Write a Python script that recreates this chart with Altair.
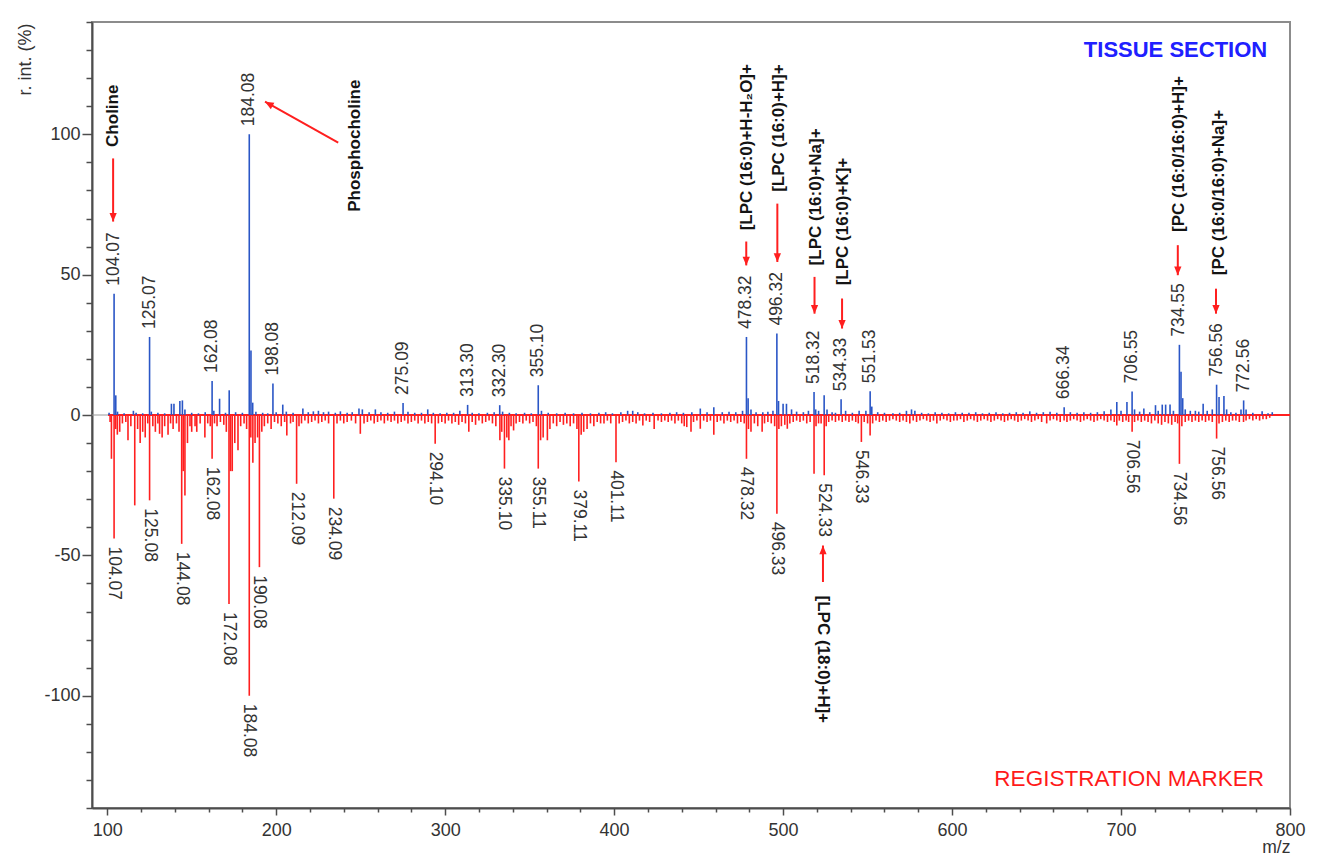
import altair as alt
import pandas as pd

# ---------------- data ----------------
# Tissue section spectrum (upward, blue): m/z and relative intensity (%)
tissue_mz = [101.1, 104.07, 105.07, 106.1, 110.0, 115.5, 117.1, 121.0, 125.07, 126.1, 130.0, 134.0,
             138.0, 139.5, 143.0, 144.5, 146.0, 150.0, 154.0, 158.0, 162.08, 163.1, 166.5, 170.0,
             172.2, 176.0, 180.0, 184.08, 185.08, 186.1, 188.0, 192.0, 195.0, 198.08, 200.0, 203.9,
             206.0, 210.0, 215.8, 219.0, 222.0, 225.0, 228.0, 231.0, 235.0, 238.0, 242.0, 245.0,
             249.0, 251.0, 255.0, 258.7, 262.0, 266.0, 270.0, 275.09, 278.0, 282.0, 286.0, 289.7,
             293.0, 297.0, 301.0, 305.0, 308.7, 313.30, 316.0, 320.0, 325.0, 329.0, 332.30, 334.0,
             338.0, 342.0, 347.0, 351.0, 355.10, 357.0, 361.0, 366.0, 371.0, 376.0, 381.0, 386.0,
             391.0, 395.0, 399.0, 404.0, 408.0, 411.0, 414.0, 418.0, 423.0, 428.0, 433.0, 437.0,
             441.0, 446.0, 451.0, 455.0, 459.0, 464.0, 468.0, 472.0, 476.0, 478.32, 479.3, 481.0,
             484.0, 488.0, 491.0, 494.0, 496.32, 497.3, 500.0, 502.0, 505.0, 508.0, 512.0, 515.0,
             518.32, 519.3, 521.0, 524.3, 526.0, 529.0, 531.0, 534.33, 537.0, 541.0, 545.0, 549.0,
             551.53, 552.5, 556.0, 560.0, 565.0, 569.0, 573.0, 576.0, 578.0, 582.0, 586.0, 590.0,
             594.0, 598.0, 602.0, 606.0, 610.0, 614.0, 618.0, 622.0, 626.0, 630.0, 634.0, 638.0,
             642.0, 646.0, 650.0, 654.0, 658.0, 662.0, 666.34, 670.0, 674.0, 678.0, 682.0, 686.0,
             690.0, 694.0, 697.5, 700.0, 703.5, 706.55, 708.0, 711.0, 713.5, 717.0, 720.4, 722.0,
             724.4, 726.4, 729.0, 731.0, 734.55, 735.5, 736.5, 738.0, 741.0, 744.0, 746.0, 748.6,
             751.0, 754.0, 756.56, 758.0, 760.9, 762.5, 765.0, 768.0, 771.0, 772.56, 774.0, 778.0,
             783.5, 787.0, 789.5]
tissue_int = [0.8, 43.2, 7.0, 1.2, 0.6, 1.5, 0.8, 0.6, 27.8, 1.2, 0.8, 0.6,
              4.0, 4.0, 5.0, 5.2, 2.0, 0.8, 0.6, 1.0, 12.1, 1.5, 5.8, 0.8,
              8.8, 1.0, 0.8, 100.0, 23.0, 4.4, 1.2, 0.8, 0.6, 11.2, 1.0, 3.7,
              1.2, 0.8, 2.3, 1.0, 1.3, 1.5, 1.0, 1.2, 0.8, 1.3, 0.8, 1.0,
              2.3, 2.0, 1.0, 2.0, 1.0, 0.8, 1.2, 4.3, 1.2, 0.8, 0.8, 2.0,
              0.8, 0.6, 0.8, 0.8, 1.5, 3.6, 0.8, 0.6, 0.8, 1.0, 3.5, 1.2,
              0.8, 0.6, 0.8, 0.6, 10.6, 1.5, 0.8, 0.6, 0.8, 0.6, 0.8, 0.6,
              0.8, 1.0, 0.6, 1.0, 1.5, 1.5, 1.0, 0.6, 0.8, 0.6, 0.8, 1.0,
              0.8, 1.0, 2.3, 1.0, 2.8, 1.0, 1.2, 1.0, 1.5, 27.8, 6.0, 2.0,
              1.0, 1.0, 1.2, 1.5, 29.0, 5.0, 4.0, 4.0, 2.0, 1.2, 1.0, 1.5,
              8.2, 2.0, 1.5, 7.0, 2.0, 1.0, 0.8, 5.6, 1.5, 0.8, 1.5, 1.5,
              8.5, 3.0, 1.0, 0.8, 0.6, 0.8, 1.5, 2.0, 1.5, 0.8, 0.6, 1.0,
              0.8, 0.6, 1.0, 0.8, 0.8, 1.0, 0.6, 0.8, 1.0, 0.6, 0.8, 1.0,
              0.8, 1.3, 0.8, 1.0, 1.2, 0.8, 2.8, 1.0, 0.8, 1.0, 0.8, 1.0,
              1.3, 2.0, 4.6, 1.5, 4.6, 8.4, 2.0, 1.2, 2.3, 1.0, 3.5, 1.5,
              3.7, 3.7, 3.7, 1.5, 25.0, 15.4, 6.0, 2.0, 1.5, 1.5, 1.2, 4.0,
              1.5, 2.0, 10.8, 6.4, 6.8, 2.0, 1.0, 0.8, 2.0, 5.2, 2.0, 0.8,
              1.3, 0.6, 1.0]

# Registration marker spectrum (downward, red)
marker_mz = [101.7, 102.5, 104.07, 105.0, 106.0, 107.4, 109.0, 111.0, 112.3, 114.0, 116.3, 118.0,
             119.5, 121.0, 122.5, 124.0, 125.08, 127.0, 128.5, 130.0, 131.0, 132.5, 134.0, 136.0,
             137.5, 139.0, 141.0, 142.5, 144.08, 145.0, 146.0, 147.5, 149.0, 150.0, 152.0, 153.0,
             155.0, 157.8, 159.5, 161.0, 162.08, 163.5, 165.0, 167.0, 169.0, 170.5, 172.08, 173.0,
             174.0, 175.5, 177.4, 179.0, 181.0, 182.5, 184.08, 185.0, 186.2, 187.5, 189.0, 190.08,
             191.5, 193.0, 195.0, 197.0, 199.0, 201.0, 203.0, 205.0, 206.3, 208.5, 210.0, 212.09,
             213.5, 215.0, 217.0, 219.0, 221.0, 223.0, 225.0, 227.0, 229.0, 231.0, 234.09, 236.0,
             238.0, 240.0, 242.0, 244.5, 247.0, 249.8, 252.0, 254.0, 256.0, 258.0, 260.0, 262.0,
             264.0, 266.0, 268.0, 270.0, 272.0, 274.0, 276.0, 278.0, 280.0, 282.0, 284.0, 286.0,
             288.0, 290.0, 292.0, 294.10, 296.0, 298.0, 300.0, 302.0, 304.0, 306.0, 308.0, 310.0,
             312.0, 314.0, 316.0, 318.0, 320.0, 322.0, 324.0, 326.0, 328.0, 330.0, 332.4, 333.5,
             335.10, 336.5, 337.7, 339.0, 340.5, 342.0, 344.0, 346.0, 348.0, 350.0, 352.0, 354.0,
             355.11, 356.5, 358.0, 360.5, 362.0, 364.0, 366.0, 368.0, 370.0, 372.0, 374.0, 376.0,
             378.0, 379.11, 380.5, 382.0, 384.0, 386.0, 388.0, 390.0, 392.0, 394.0, 396.0, 398.0,
             401.11, 403.0, 405.0, 407.0, 409.0, 411.0, 413.0, 415.0, 417.0, 419.0, 421.0, 423.7,
             426.0, 428.0, 430.0, 432.0, 434.0, 436.0, 438.0, 440.0, 441.5, 443.0, 445.5, 447.0,
             449.0, 451.0, 453.0, 455.0, 457.0, 459.0, 461.0, 463.0, 465.0, 467.0, 469.0, 471.0,
             473.0, 475.0, 477.0, 478.32, 479.5, 481.0, 483.0, 485.0, 487.6, 489.0, 491.0, 493.0,
             495.0, 496.33, 497.5, 499.0, 501.0, 502.5, 504.0, 506.0, 508.0, 510.0, 512.0, 514.0,
             516.0, 518.32, 519.5, 521.0, 522.5, 524.33, 525.5, 527.0, 529.0, 531.0, 533.0, 535.0,
             537.0, 539.0, 541.0, 543.0, 544.5, 546.33, 548.0, 550.0, 551.5, 553.0, 555.0, 557.0,
             559.0, 561.0, 563.0, 565.0, 567.0, 569.0, 571.0, 573.0, 575.0, 577.0, 579.0, 581.0,
             583.0, 585.0, 587.0, 589.0, 591.0, 593.0, 595.0, 597.0, 599.0, 601.0, 603.0, 605.0,
             607.0, 609.0, 611.0, 613.0, 615.0, 617.0, 619.0, 621.0, 623.0, 625.0, 627.0, 629.0,
             631.0, 633.0, 635.0, 637.0, 639.0, 641.0, 643.0, 645.0, 647.0, 649.0, 651.0, 653.0,
             656.0, 658.0, 660.0, 662.0, 664.0, 666.3, 668.0, 670.0, 672.0, 674.0, 676.0, 678.0,
             680.0, 682.0, 684.0, 686.0, 688.0, 690.0, 692.0, 694.0, 696.0, 697.5, 699.0, 701.0,
             703.0, 704.5, 706.56, 708.0, 710.0, 712.0, 714.0, 716.0, 718.0, 720.0, 722.0, 724.0,
             726.0, 728.0, 730.0, 732.0, 733.5, 734.56, 736.0, 738.0, 740.0, 742.0, 744.0, 746.0,
             748.0, 750.0, 752.0, 754.0, 756.56, 758.0, 760.0, 762.0, 764.0, 766.0, 768.0, 770.0,
             772.5, 774.0, 776.0, 778.0, 780.0, 782.0, 784.0, 786.0, 788.0]
marker_int = [-2.5, -15.6, -44.0, -5.0, -7.0, -6.0, -3.0, -2.5, -9.0, -4.0, -32.2, -5.0,
              -10.0, -6.0, -8.0, -3.0, -30.4, -4.0, -6.0, -3.0, -6.7, -8.0, -4.0, -7.0,
              -3.0, -5.0, -3.0, -6.0, -45.9, -20.0, -28.7, -10.0, -4.0, -6.0, -4.0, -6.0,
              -3.0, -8.0, -3.0, -4.0, -15.6, -3.0, -4.0, -2.5, -3.5, -6.0, -67.3, -20.0,
              -20.0, -10.0, -12.6, -4.0, -3.0, -5.0, -100.0, -8.0, -17.0, -10.0, -8.0, -54.2,
              -6.0, -4.0, -3.0, -5.0, -2.5, -3.0, -4.0, -2.5, -7.3, -3.0, -2.5, -24.5,
              -4.0, -3.0, -2.0, -3.0, -2.5, -2.0, -3.0, -2.5, -2.0, -3.0, -29.8, -3.0,
              -2.0, -3.0, -2.5, -2.0, -3.0, -6.7, -3.0, -2.5, -2.0, -3.0, -2.5, -2.0,
              -3.0, -2.0, -2.5, -2.0, -3.0, -2.5, -2.0, -3.0, -2.5, -2.0, -3.0, -2.0,
              -3.0, -2.5, -3.0, -10.2, -3.0, -2.5, -3.0, -2.0, -3.0, -2.5, -3.5, -2.5,
              -3.0, -6.0, -2.5, -3.5, -2.0, -3.0, -2.5, -2.0, -3.0, -4.0, -9.0, -6.0,
              -19.1, -8.0, -9.0, -4.0, -5.5, -3.0, -2.5, -3.0, -2.0, -3.0, -2.5, -4.0,
              -19.1, -9.0, -8.0, -9.0, -5.0, -3.0, -4.0, -2.5, -3.5, -3.0, -4.0, -3.0,
              -5.0, -23.7, -7.0, -6.0, -5.0, -3.0, -4.0, -2.5, -3.0, -3.0, -2.0, -3.0,
              -16.8, -3.0, -2.5, -2.0, -3.0, -2.5, -3.0, -2.0, -3.7, -2.0, -2.5, -5.0,
              -2.0, -2.5, -2.0, -2.5, -2.0, -3.0, -2.0, -3.0, -4.0, -4.3, -6.0, -2.5,
              -2.0, -4.9, -2.0, -2.5, -2.0, -7.0, -2.5, -2.0, -3.0, -2.0, -2.5, -2.0,
              -3.0, -2.5, -3.0, -15.6, -5.0, -6.0, -3.0, -4.0, -6.0, -3.0, -2.5, -3.0,
              -4.0, -35.2, -5.0, -4.0, -3.5, -4.9, -3.0, -2.5, -2.0, -2.5, -2.0, -3.0,
              -2.5, -20.9, -4.0, -3.0, -3.0, -21.5, -4.0, -2.5, -2.0, -2.5, -2.0, -2.5,
              -2.0, -2.5, -2.0, -2.5, -3.0, -9.6, -2.5, -3.0, -7.3, -3.0, -2.0, -2.5,
              -2.0, -2.5, -2.0, -1.5, -2.0, -2.5, -2.0, -2.5, -3.0, -2.0, -2.5, -2.0,
              -1.5, -2.0, -2.5, -2.0, -3.0, -2.0, -1.5, -2.0, -2.5, -2.0, -2.0, -1.5,
              -2.5, -2.0, -1.5, -2.0, -2.5, -2.0, -1.5, -2.0, -2.5, -2.0, -1.5, -2.0,
              -2.5, -2.0, -1.5, -2.0, -2.5, -2.0, -1.5, -2.0, -2.5, -2.0, -1.5, -2.5,
              -3.0, -2.0, -1.5, -2.0, -2.5, -2.0, -2.5, -2.0, -1.5, -2.0, -2.5, -2.0,
              -1.5, -2.0, -2.5, -2.0, -1.5, -2.0, -2.5, -2.0, -2.5, -3.7, -2.0, -2.5,
              -2.0, -2.5, -6.0, -2.5, -2.0, -2.5, -2.0, -2.5, -3.0, -2.0, -3.0, -3.5,
              -2.5, -3.0, -3.5, -2.5, -3.0, -17.4, -4.0, -2.5, -2.0, -2.5, -2.0, -2.5,
              -2.0, -2.5, -2.0, -2.5, -8.4, -3.0, -2.5, -2.0, -2.5, -2.0, -2.0, -2.5,
              -2.5, -2.0, -1.5, -2.0, -1.5, -2.0, -1.5, -1.5, -1.0]

# Peak labels (tissue section, above the peaks)
tissue_labels = ["104.07", "125.07", "162.08", "184.08", "198.08", "275.09", "313.30", "332.30",
                 "355.10", "478.32", "496.32", "518.32", "534.33", "551.53", "666.34", "706.55",
                 "734.55", "756.56", "772.56"]
tissue_label_int = [43.2, 27.8, 12.1, 100.0, 11.2, 4.3, 3.6, 3.5, 10.6, 27.8, 29.0, 8.2, 5.6,
                    8.5, 2.8, 8.4, 25.0, 10.8, 5.2]

# Peak labels (registration marker, below the peaks)
marker_labels = ["104.07", "125.08", "144.08", "162.08", "172.08", "184.08", "190.08", "212.09",
                 "234.09", "294.10", "335.10", "355.11", "379.11", "401.11", "478.32", "496.33",
                 "524.33", "546.33", "706.56", "734.56", "756.56"]
marker_label_int = [-44.0, -30.4, -45.9, -15.6, -67.3, -100.0, -54.2, -24.5, -29.8, -10.2, -19.1,
                    -19.1, -23.7, -16.8, -15.6, -35.2, -21.5, -9.6, -6.0, -17.4, -8.4]

# Compound annotations (upper, text reads upward)
anno_up_text = ["Choline", "Phosphocholine", "[LPC (16:0)+H-H\u2082O]+", "[LPC (16:0)+H]+",
                "[LPC (16:0)+Na]+", "[LPC (16:0)+K]+", "[PC (16:0/16:0)+H]+", "[PC (16:0/16:0)+Na]+"]
anno_up_mz = [103.5, 246.8, 478.5, 497.6, 519.4, 535.4, 734.4, 757.8]
anno_up_val = [95.5, 72.4, 65.8, 79.5, 53.3, 46.2, 65.2, 49.8]

# Compound annotation (lower, text reads downward)
anno_dn_text = ["[LPC (18:0)+H]+"]
anno_dn_mz = [523.6]
anno_dn_val = [-64.3]

# Arrows: start (mz, val) -> tip (mz2, val2)
arrow_mz = [103.5, 236.7, 478.2, 496.6, 518.6, 534.9, 733.6, 756.2, 523.6]
arrow_val = [91.4, 97.0, 61.8, 75.3, 49.2, 41.5, 60.5, 45.0, -59.5]
arrow_mz2 = [103.5, 193.4, 478.2, 496.6, 518.6, 534.9, 733.6, 756.2, 523.6]
arrow_val2 = [68.9, 111.6, 53.3, 54.5, 36.1, 30.8, 49.8, 36.1, -46.5]
arrow_angle = [0, 119.3, 0, 0, 0, 0, 0, 0, 180]

# Panel tags
tag_top = "TISSUE SECTION"
tag_bottom = "REGISTRATION MARKER"

# ---------------- chart ----------------
FONT = "Liberation Sans, Arial, Helvetica, sans-serif"
BLUE = "#2a56c6"
RED = "#ff1f1f"
TXT = "#333333"

W, H = 1198, 786

xs = alt.Scale(domain=[91, 800], nice=False, zero=False)
ys = alt.Scale(domain=[-140, 140], nice=False, zero=False)

x_axis = alt.Axis(
    values=list(range(100, 801, 20)),
    labelExpr="datum.value % 100 === 0 ? '' + datum.value : ''",
    tickSize={"condition": {"test": "datum.value % 100 === 0", "value": 7}, "value": 4},
    labelPadding=6, labelFontSize=18, labelColor=TXT, labelFont=FONT,
    title="m/z", titleFontSize=17.5, titleFont=FONT, titleColor=TXT, titleFontWeight="normal",
    titleAnchor="end", titleAlign="right", titleBaseline="bottom", titleY=48.5,
    grid=False, labelFlush=False,
)
y_axis = alt.Axis(
    values=list(range(-140, 141, 10)),
    labelExpr="datum.value % 50 === 0 ? '' + datum.value : ''",
    tickSize={"condition": {"test": "datum.value % 50 === 0", "value": 10}, "value": 6},
    labelPadding=2, labelFontSize=18, labelColor=TXT, labelFont=FONT,
    title="r. int. (%)", titleFontSize=18, titleFont=FONT, titleColor=TXT, titleFontWeight="normal",
    titleAngle=270, titleX=-67, titleY=1, titleAlign="right", titleBaseline="middle",
    grid=False, labelFlush=False,
)

X = alt.X("mz:Q", scale=xs, axis=x_axis, title="m/z")
Y = alt.Y("val:Q", scale=ys, axis=y_axis, title="r. int. (%)")

tissue_df = pd.DataFrame({"mz": tissue_mz, "val": tissue_int})
marker_df = pd.DataFrame({"mz": marker_mz, "val": marker_int})
tl_df = pd.DataFrame({"mz": [float(t) for t in tissue_labels], "val": tissue_label_int, "label": tissue_labels})
ml_df = pd.DataFrame({"mz": [float(t) for t in marker_labels], "val": marker_label_int, "label": marker_labels})
au_df = pd.DataFrame({"mz": anno_up_mz, "val": anno_up_val, "label": anno_up_text})
ad_df = pd.DataFrame({"mz": anno_dn_mz, "val": anno_dn_val, "label": anno_dn_text})
ar_df = pd.DataFrame({"mz": arrow_mz, "val": arrow_val, "mz2": arrow_mz2, "val2": arrow_val2, "ang": arrow_angle})
zero_df = pd.DataFrame({"mz": [91.0], "mz2": [800.0], "val": [0.0]})
base_df = pd.DataFrame({"mz": [100.5], "mz2": [800.0], "val": [0.0]})
tag1_df = pd.DataFrame({"mz": [786.5], "val": [130.0], "label": [tag_top]})
tag2_df = pd.DataFrame({"mz": [784.6], "val": [-129.7], "label": [tag_bottom]})

zero_line = alt.Chart(zero_df).mark_rule(color="#9a9a9a", strokeWidth=1).encode(
    x=X, x2=alt.X2("mz2"), y=Y)
base_line = alt.Chart(base_df).mark_rule(color=RED, strokeWidth=2).encode(
    x=X, x2=alt.X2("mz2"), y=Y)

red_sticks = alt.Chart(marker_df).mark_rule(color=RED, strokeWidth=1.6).encode(
    x=X, y=Y, y2=alt.datum(0))
blue_sticks = alt.Chart(tissue_df).mark_rule(color=BLUE, strokeWidth=1.6).encode(
    x=X, y=Y, y2=alt.datum(0))

tl_text = alt.Chart(tl_df).mark_text(
    angle=270, align="left", baseline="middle", dx=8, fontSize=17.5, font=FONT, color=TXT
).encode(x=X, y=Y, text="label:N")
ml_text = alt.Chart(ml_df).mark_text(
    angle=90, align="left", baseline="middle", dx=8, fontSize=17.5, font=FONT, color=TXT
).encode(x=X, y=Y, text="label:N")

au_text = alt.Chart(au_df).mark_text(
    angle=270, align="left", baseline="middle", fontSize=17, font=FONT, fontWeight="bold", color="#141414"
).encode(x=X, y=Y, text="label:N")
ad_text = alt.Chart(ad_df).mark_text(
    angle=90, align="left", baseline="middle", fontSize=17, font=FONT, fontWeight="bold", color="#141414"
).encode(x=X, y=Y, text="label:N")

arrow_lines = alt.Chart(ar_df).mark_rule(color=RED, strokeWidth=2).encode(
    x=X, y=Y, x2=alt.X2("mz2"), y2=alt.Y2("val2"))
arrow_heads = alt.Chart(ar_df).mark_point(
    shape="M-0.42,-1L0.42,-1L0,0Z", filled=True, size=300, color=RED, opacity=1, strokeWidth=0
).encode(
    x=alt.X("mz2:Q", scale=xs, axis=x_axis, title="m/z"),
    y=alt.Y("val2:Q", scale=ys, axis=y_axis, title="r. int. (%)"),
    angle=alt.Angle("ang:Q", scale=None),
)

tag1 = alt.Chart(tag1_df).mark_text(
    align="right", baseline="middle", fontSize=22, font=FONT, fontWeight="bold", color="#2020ff"
).encode(x=X, y=Y, text="label:N")
tag2 = alt.Chart(tag2_df).mark_text(
    align="right", baseline="middle", fontSize=22.5, font=FONT, fontWeight="normal", color="#ff1a1a"
).encode(x=X, y=Y, text="label:N")

chart = alt.layer(
    zero_line, base_line, red_sticks, blue_sticks, tl_text, ml_text,
    au_text, ad_text, arrow_lines, arrow_heads, tag1, tag2
).properties(
    width=W, height=H,
    autosize=alt.AutoSizeParams(type="none"),
    padding={"left": 84, "top": 14, "right": 19, "bottom": 49},
).configure_view(
    stroke="#8c8c8c", strokeWidth=2
).configure_axis(
    domainColor="#4d4d4d", domainWidth=2, tickColor="#4d4d4d", tickWidth=1.5,
    labelFontSize=18, labelFont=FONT, labelColor=TXT
)

chart.save("out.html", embed_options={"renderer": "svg", "actions": False})
